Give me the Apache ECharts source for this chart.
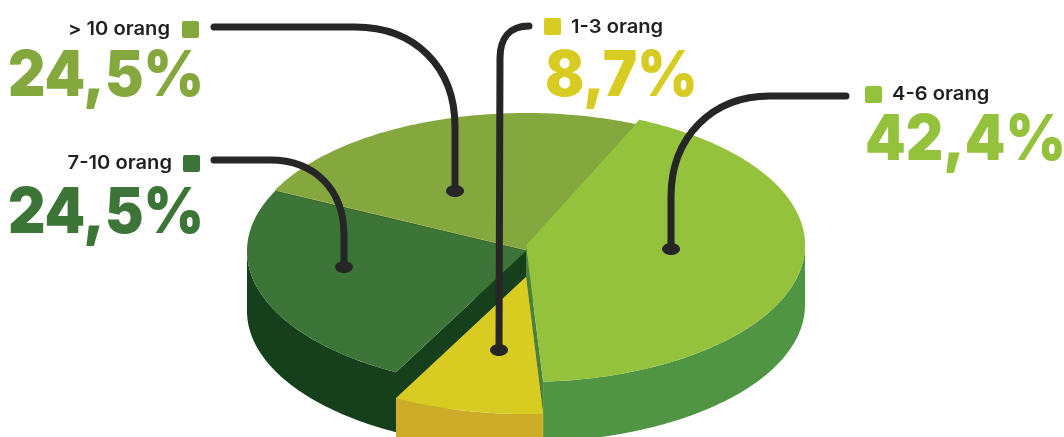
<!DOCTYPE html>
<html>
<head>
<meta charset="utf-8">
<title>Jumlah orang</title>
<style>html,body{margin:0;padding:0;background:#fff}#chart{width:1064px;height:437px}</style>
<script src="https://cdn.jsdelivr.net/npm/echarts@6/dist/echarts.min.js"></script>
</head>
<body>
<div id="chart"></div>
<script>
// Slices, counter-clockwise from the back-right edge of the disc
const categories = ['> 10 orang', '7-10 orang', '1-3 orang', '4-6 orang'];
const shares = [24.5, 24.5, 8.7, 42.4];

// Disc projection
const disc = { cx: 526, cy: 250, rx: 279, ry: 137, depth: 60, startDeg: 66 };
const slicePull = [[0, 0], [0, 1], [0, 27], [0, -5]];
const stacking = [1, 2, 4, 3];
const topColors = ['#84a83e', '#3d7437', '#d8cb21', '#95c23d'];
const wallColors = ['#5f7f2e', '#163f1c', '#cdac29', '#4f9543'];
const cutColors = ['#5f7f2e', '#163f1c', '#cdac29', '#4a823c'];

// Legend and callout placement
const INK = '#231f20';
const FONT = 'Inter, "Open Sans", sans-serif';
const NAME_STRETCH = 1.06;
const PCT_STRETCH = 0.92;
const callouts = [
  { swatch: [182, 21], nameX: 170, nameY: 29, align: 'right', pctX: 204, pctY: 77, pctAlign: 'right',
    leader: 'M214 27 L355 27 C415 27 455 67 455 127 L455 191', dot: [455, 191] },
  { swatch: [183, 155], nameX: 172, nameY: 163, align: 'right', pctX: 204, pctY: 214, pctAlign: 'right',
    leader: 'M214 160 L270 160 C315 160 344 190 344 235 L344 267', dot: [344, 267] },
  { swatch: [544, 18], nameX: 571, nameY: 27, align: 'left', pctX: 545, pctY: 77, pctAlign: 'left',
    leader: 'M529 26 C510 26 500 38 500 58 L499 350', dot: [499, 350] },
  { swatch: [865, 86], nameX: 892, nameY: 94, align: 'left', pctX: 865, pctY: 141, pctAlign: 'left',
    leader: 'M846 96 L770 96 C712 96 671 137 671 197 L671 249', dot: [671, 249] }
];

const total = shares.reduce((a, b) => a + b, 0);
const formatShare = v => v.toFixed(1).replace('.', ',') + '%';

function project(deg, pull, drop) {
  const t = deg * Math.PI / 180;
  return [
    disc.cx + pull[0] + disc.rx * Math.cos(t),
    disc.cy + pull[1] + drop - disc.ry * Math.sin(t)
  ];
}

function arc(from, to, pull, drop) {
  const pts = [];
  const steps = Math.max(8, Math.ceil(Math.abs(to - from)));
  for (let i = 0; i <= steps; i++) {
    pts.push(project(from + (to - from) * i / steps, pull, drop));
  }
  return pts;
}

function renderSlice(params, api) {
  const i = params.dataIndex;
  let before = 0;
  for (let k = 0; k < i; k++) before += shares[k];
  const from = disc.startDeg + before / total * 360;
  const to = from + api.value(1) / total * 360;
  const pull = slicePull[i];
  const apex = [disc.cx + pull[0], disc.cy + pull[1]];
  const base = stacking[i] * 10;
  const top = arc(from, to, pull, 0);
  const bottom = arc(from, to, pull, disc.depth);
  const apexLow = [apex[0], apex[1] + disc.depth];
  const wall = (points, fill, z) => ({
    type: 'polygon', z2: base + z, shape: { points }, style: { fill }
  });
  const children = [
    wall([apex, top[0], bottom[0], apexLow], cutColors[i], 0),
    wall([apex, top[top.length - 1], bottom[bottom.length - 1], apexLow], cutColors[i], 0),
    wall([apex].concat(top), topColors[i], 2)
  ];
  // Only the near half of the rim (180 to 360 degrees) faces the viewer
  const frontFrom = Math.max(from, 180);
  const frontTo = Math.min(to, 360);
  if (frontTo > frontFrom) {
    const rimTop = arc(frontFrom, frontTo, pull, 0);
    const rimBottom = arc(frontFrom, frontTo, pull, disc.depth);
    children.push(wall(rimTop.concat(rimBottom.reverse()), wallColors[i], 1));
  }
  return { type: 'group', children };
}

// Leader line, end dot, legend swatch, name and percentage for one slice
function renderCallout(params, api) {
  const i = params.dataIndex;
  const c = callouts[i];
  return {
    type: 'group',
    children: [
      { type: 'path', shape: { pathData: c.leader },
        style: { fill: 'none', stroke: '#262626', lineWidth: 7, lineCap: 'round' } },
      { type: 'ellipse', shape: { cx: c.dot[0], cy: c.dot[1], rx: 9, ry: 6 },
        style: { fill: '#262626' } },
      { type: 'rect', shape: { x: c.swatch[0], y: c.swatch[1], width: 17, height: 17, r: 2 },
        style: { fill: topColors[i] } },
      { type: 'text', x: c.nameX, y: c.nameY, scaleX: NAME_STRETCH,
        style: { text: categories[i], fill: INK, font: '600 19px ' + FONT, align: c.align, verticalAlign: 'middle' } },
      { type: 'text', x: c.pctX, y: c.pctY, scaleX: PCT_STRETCH,
        style: { text: formatShare(api.value(1)), fill: topColors[i], font: '900 63px ' + FONT, align: c.pctAlign, verticalAlign: 'middle' } }
    ]
  };
}

const rows = shares.map((v, i) => [i, v]);
const chart = echarts.init(document.getElementById('chart'), null, { renderer: 'canvas' });
chart.setOption({
  animation: false,
  backgroundColor: '#ffffff',
  tooltip: { show: false },
  series: [
    { type: 'custom', coordinateSystem: 'none', renderItem: renderSlice, silent: true, z: 2, data: rows },
    { type: 'custom', coordinateSystem: 'none', renderItem: renderCallout, silent: true, z: 5, data: rows }
  ]
});
</script>
</body>
</html>
